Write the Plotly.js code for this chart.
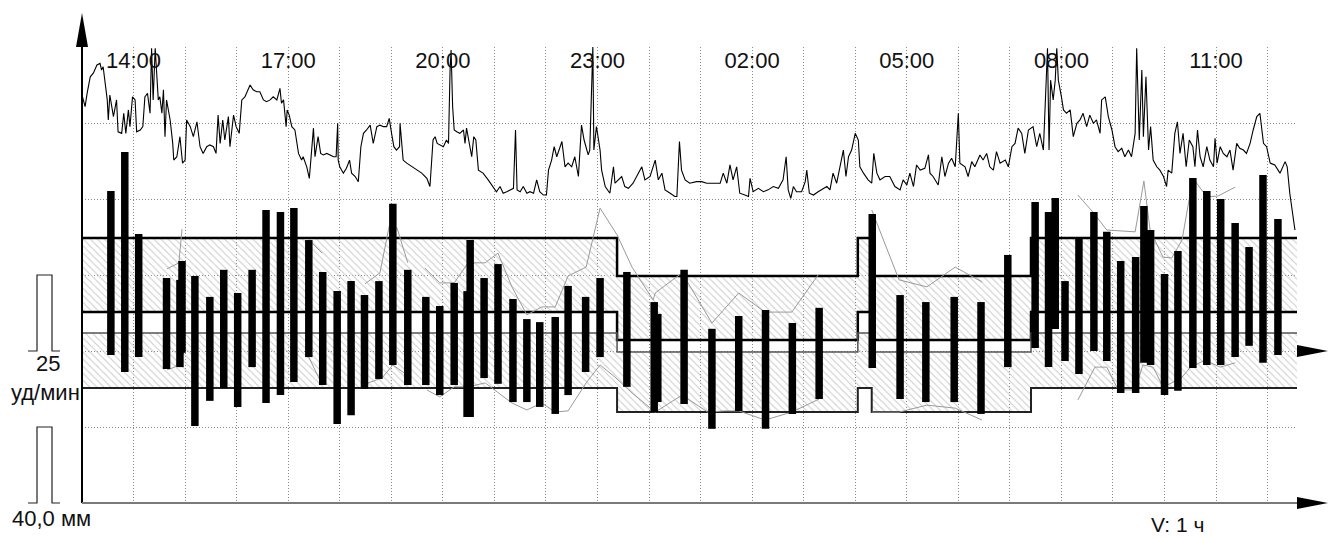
<!DOCTYPE html>
<html>
<head>
<meta charset="utf-8">
<script src="https://cdn.plot.ly/plotly-3.0.1.min.js"></script>
<style>
html,body{margin:0;padding:0;background:#fff;}
#chart{width:1329px;height:539px;}
</style>
</head>
<body>
<div id="chart"></div>
<script>
// Time axis: hours after 13:00 of the first day
const tickHours  = [1, 4, 7, 10, 13, 16, 19, 22];
const tickLabels = ['14:00', '17:00', '20:00', '23:00', '02:00', '05:00', '08:00', '11:00'];

// Heart-rate trend (upper curve)
const hrTime = [
0.01,0.06,0.10,0.16,0.22,0.29,0.35,0.38,0.41,0.45,
0.49,0.51,0.54,0.61,0.67,0.70,0.77,0.81,0.85,0.90,
0.93,0.98,1.03,1.06,1.13,1.18,1.22,1.27,1.32,1.35,
1.38,1.42,1.48,1.51,1.55,1.58,1.61,1.64,1.71,1.76,
1.78,1.84,1.90,1.95,2.00,2.03,2.10,2.16,2.23,2.29,
2.35,2.42,2.48,2.55,2.60,2.64,2.68,2.73,2.77,2.84,
2.87,2.94,2.99,3.05,3.10,3.16,3.26,3.32,3.39,3.45,
3.52,3.58,3.65,3.71,3.78,3.84,3.87,3.91,3.96,3.98,
4.02,4.07,4.13,4.20,4.26,4.29,4.36,4.41,4.46,4.49,
4.52,4.58,4.63,4.68,4.75,4.81,4.88,4.93,4.96,4.97,
5.00,5.07,5.13,5.19,5.23,5.30,5.36,5.41,5.46,5.52,
5.59,5.65,5.72,5.78,5.85,5.91,5.96,6.01,6.05,6.10,
6.16,6.17,6.23,6.30,6.40,6.49,6.59,6.69,6.75,6.81,
6.85,6.89,6.94,7.01,7.07,7.11,7.14,7.16,7.19,7.22,
7.27,7.33,7.40,7.43,7.46,7.49,7.56,7.60,7.64,7.69,
7.78,7.88,7.98,8.04,8.11,8.17,8.24,8.30,8.37,8.41,
8.44,8.50,8.56,8.63,8.69,8.76,8.82,8.88,8.95,9.01,
9.05,9.11,9.16,9.21,9.26,9.31,9.37,9.43,9.50,9.56,
9.63,9.66,9.69,9.74,9.79,9.82,9.85,9.89,9.91,9.93,
9.98,10.02,10.05,10.08,10.15,10.24,10.31,10.34,10.40,10.47,
10.53,10.60,10.69,10.79,10.86,10.92,11.02,11.12,11.18,11.25,
11.31,11.41,11.50,11.54,11.59,11.63,11.70,11.79,11.92,12.02,
12.12,12.25,12.38,12.44,12.51,12.57,12.63,12.70,12.76,12.86,
12.93,12.96,13.02,13.12,13.22,13.31,13.41,13.51,13.60,13.66,
13.70,13.75,13.80,13.86,13.96,14.03,14.06,14.11,14.19,14.28,
14.38,14.45,14.51,14.57,14.64,14.70,14.77,14.82,14.87,14.93,
15.00,15.06,15.09,15.16,15.25,15.32,15.36,15.42,15.48,15.58,
15.67,15.77,15.87,15.93,16.00,16.06,16.13,16.19,16.26,16.35,
16.42,16.45,16.51,16.61,16.68,16.74,16.81,16.87,16.94,17.00,
17.03,17.13,17.19,17.26,17.32,17.42,17.48,17.55,17.61,17.68,
17.74,17.81,17.91,17.97,18.04,18.10,18.16,18.23,18.29,18.36,
18.42,18.45,18.52,18.58,18.65,18.69,18.73,18.76,18.79,18.84,
18.88,18.91,18.94,19.00,19.04,19.10,19.17,19.23,19.30,19.36,
19.42,19.49,19.55,19.62,19.68,19.75,19.78,19.85,19.91,19.98,
20.04,20.10,20.17,20.23,20.30,20.36,20.43,20.46,20.51,20.56,
20.59,20.64,20.69,20.73,20.78,20.85,20.91,20.98,21.04,21.07,
21.14,21.20,21.25,21.30,21.36,21.42,21.48,21.55,21.59,21.64,
21.69,21.75,21.82,21.88,21.95,21.98,22.02,22.08,22.14,22.21,
22.27,22.33,22.40,22.46,22.53,22.59,22.66,22.72,22.79,22.85,
22.92,22.98,23.05,23.14,23.24,23.34,23.38,23.43,23.53
];
const hrValue = [
133.6,130.4,134.8,140.2,141.4,144.1,144.6,142.4,143.5,138.1,
132.6,126.0,134.2,127.1,132.6,122.1,121.6,128.2,121.6,129.3,
123.8,133.6,132.6,122.1,122.7,123.8,133.6,134.8,128.2,149.6,
132.6,149.6,132.6,133.6,128.2,135.9,120.5,132.6,126.0,118.3,
112.8,113.9,120.5,111.8,112.8,126.0,123.8,120.5,125.4,117.2,
115.0,117.2,117.8,117.2,115.0,127.6,118.3,126.0,119.4,127.1,
117.2,127.6,123.8,121.6,132.6,133.6,137.5,135.9,135.3,135.3,
132.6,132.0,132.6,133.6,132.6,136.4,131.5,132.6,123.8,129.3,
127.6,123.8,122.7,115.0,112.8,113.9,110.6,106.8,116.1,123.3,
113.9,120.5,115.0,114.5,115.0,114.5,113.9,113.9,124.9,112.8,
110.6,108.5,110.1,112.8,108.5,107.4,105.7,117.2,121.6,122.7,
124.3,118.3,123.8,124.3,123.8,123.8,126.5,121.1,117.2,116.1,
117.2,124.9,112.8,111.8,110.6,109.5,108.5,106.8,104.1,119.4,
120.5,118.3,117.8,117.2,119.4,118.3,142.4,149.0,130.4,122.7,
122.1,121.6,122.7,118.3,123.3,120.5,113.9,120.5,119.4,109.5,
108.5,106.3,104.1,102.4,104.1,101.9,102.4,103.0,103.5,122.7,
103.0,102.4,104.1,101.9,102.4,101.9,106.3,102.4,101.3,101.3,
109.5,112.8,117.2,113.9,116.1,118.9,110.6,111.8,110.6,113.9,
107.4,117.2,124.3,119.4,116.1,114.5,116.1,142.4,150.1,116.1,
123.8,119.4,116.1,109.5,104.1,101.9,110.6,105.2,106.3,107.4,
104.1,103.5,105.2,108.5,110.6,106.3,107.4,112.8,106.3,108.5,
103.0,101.9,100.8,100.8,118.9,109.5,106.3,105.2,105.7,105.7,
105.2,105.2,105.2,108.5,105.2,111.2,106.3,110.6,101.9,101.3,
100.8,106.8,102.4,103.5,102.4,103.0,104.1,103.5,106.3,113.9,
103.0,100.2,104.1,102.4,102.4,105.7,109.5,101.9,101.3,102.4,
103.5,104.1,103.0,108.5,105.2,110.6,116.1,107.4,113.9,116.1,
121.6,119.4,110.6,108.5,106.3,105.2,115.0,108.5,106.3,107.4,
107.4,104.1,103.0,106.3,104.6,108.5,104.1,111.2,109.5,110.1,
114.5,108.5,107.4,104.6,113.9,107.4,111.8,113.4,110.6,128.2,
111.8,110.6,107.4,112.3,110.6,114.5,112.8,115.0,110.6,109.5,
115.6,111.8,112.8,110.6,117.2,118.3,123.3,121.6,115.0,122.7,
123.3,123.8,117.2,121.6,116.1,132.6,149.6,116.1,139.1,132.6,
139.1,149.6,139.1,133.6,129.3,128.2,129.3,120.5,124.9,126.0,
128.2,123.8,127.6,124.9,126.0,121.6,132.6,133.6,127.1,122.7,
117.2,115.6,116.7,113.9,116.1,113.9,121.6,149.6,119.4,142.4,
120.5,140.2,116.1,123.8,112.8,110.6,109.5,107.4,104.1,109.5,
108.5,121.6,125.4,115.0,121.6,110.6,119.4,117.2,110.6,122.7,
113.9,110.6,117.2,112.8,110.6,120.0,111.8,117.2,115.0,113.9,
116.1,109.5,118.3,116.7,116.1,115.0,118.3,122.7,127.1,128.2,
118.3,117.2,111.8,111.2,108.5,112.3,110.6,101.9,89.8
];

// Range bars (low .. high)
const barTime = [
0.56,0.83,1.10,1.64,1.90,1.94,2.19,2.48,2.75,3.02,
3.30,3.57,3.85,4.11,4.40,4.67,4.95,5.22,5.48,5.76,
6.03,6.32,6.67,6.94,7.22,7.47,7.53,7.80,8.07,8.36,
8.63,8.88,9.18,9.43,9.77,10.05,
10.57,11.10,11.17,11.68,12.22,12.74,13.26,13.78,14.30,15.33,
15.87,16.37,16.92,17.44,17.96,
18.49,18.75,18.88,19.07,19.34,19.63,19.88,20.15,20.44,20.60,
20.73,21.00,21.26,21.55,21.82,22.09,22.37,22.64,22.91,23.20
];
const barHigh = [
102.6,115.5,88.5,74.0,73.4,79.6,74.7,67.8,76.7,69.1,
76.7,96.4,95.7,97.0,86.5,76.0,69.7,73.0,68.4,73.0,
98.4,76.7,67.8,64.8,72.4,69.7,86.5,74.0,78.6,67.1,
60.5,59.5,61.2,71.4,67.8,74.0,
76.0,66.1,62.2,76.7,57.3,61.5,63.5,59.2,64.2,95.1,
68.4,66.1,67.8,66.1,81.6,
99.0,95.7,100.3,73.0,87.2,95.7,89.2,79.6,80.9,97.7,
89.8,75.3,82.9,106.9,102.6,100.0,92.1,84.2,107.9,93.4
];
const barLow = [
48.7,43.1,48.0,44.1,44.7,49.4,25.3,33.6,37.8,31.6,
44.7,32.9,35.5,39.8,48.0,38.8,26.0,28.9,37.5,40.8,
45.4,38.8,38.8,35.5,38.8,28.3,28.3,41.1,39.2,33.2,
33.2,31.6,29.3,35.5,43.1,48.0,
38.2,29.9,33.2,32.6,24.4,30.3,24.4,29.3,34.2,44.4,
34.2,33.2,33.2,29.3,44.7,
51.0,44.7,57.2,46.7,42.4,50.0,46.7,36.2,36.2,46.1,
45.4,35.5,36.9,44.4,45.4,45.4,48.0,51.7,46.1,48.7
];

// Day / night step limits
const stepTime   = [0, 10.38, 15.05, 15.32, 18.41, 23.57];
const upperLimit = [87.2, 74.7, 87.2, 74.7, 87.2, 87.2];
const upperMean  = [62.8, 53.6, 62.8, 53.6, 62.8, 62.8];
const lowerMean  = [55.9, 49.7, 55.9, 49.7, 55.9, 55.9];
const lowerLimit = [37.8, 29.9, 37.8, 29.9, 37.8, 37.8];

// Thin grey envelope lines
const envUpTime = [1.65,1.88,1.94,null,4.40,4.66,null,5.49,5.78,5.96,6.11,6.32,null,
  6.65,6.94,7.22,7.49,7.82,8.07,8.34,8.63,8.92,9.18,9.43,
  9.78,10.05,10.38,10.67,11.08,11.12,11.64,12.22,12.74,13.25,13.77,14.28,null,
  15.32,15.85,16.39,16.94,17.46,null,
  19.32,19.61,19.88,20.43,20.60,20.72,20.97,21.14,21.34,21.55,21.82,22.04,22.37];
const envUpValue = [77.0,79.0,90.1,null,86.5,82.2,null,72.1,75.7,91.1,90.5,79.0,null,
  77.3,72.4,72.4,79.0,79.0,82.2,71.1,61.9,64.5,64.5,74.7,
  77.6,97.0,88.2,77.6,66.8,69.1,75.7,59.2,69.1,62.8,62.8,75.0,null,
  96.4,73.4,71.1,77.6,72.7,null,
  101.3,95.7,89.8,89.2,105.9,89.8,80.9,80.6,86.5,106.9,100.7,101.0,103.9];
const envLowTime = [1.65,1.80,1.98,null,4.40,4.66,null,5.55,5.82,6.03,6.25,null,
  6.69,6.94,7.22,7.49,7.82,8.34,8.63,8.92,9.18,9.43,
  9.78,10.05,10.34,10.67,11.12,11.64,12.14,12.47,12.74,13.25,13.77,14.30,null,
  15.32,15.85,16.39,16.94,17.46,null,
  19.32,19.65,19.88,20.10,20.43,20.58,20.78,20.97,21.14,21.34,21.49,21.78,22.08,22.37];
const envLowValue = [43.8,44.7,49.4,null,48.0,38.8,null,39.5,41.1,45.4,42.8,null,
  37.2,34.9,38.2,38.2,39.5,32.9,30.6,32.9,29.9,30.3,
  39.5,45.4,41.4,36.2,29.9,35.5,29.9,30.3,30.3,27.3,29.9,34.2,null,
  29.9,29.9,32.2,31.2,27.3,null,
  33.9,44.7,44.7,37.2,37.2,45.4,44.7,38.2,39.5,41.4,44.4,47.0,44.7,46.1];

const FONT = 'Liberation Sans, Arial, sans-serif';
const GRID = '#8a8a8a';
const hatch = {shape: '\\', fgcolor: '#cacaca', bgcolor: 'rgba(0,0,0,0)', size: 5, solidity: 0.2};

function stepTrace(y, extra) {
  return Object.assign({
    type: 'scatter', mode: 'lines', x: stepTime, y: y,
    line: {shape: 'hv', width: 0, color: 'rgba(0,0,0,0)'},
    hoverinfo: 'skip', showlegend: false
  }, extra || {});
}

// vertical range bars drawn as thick segments so they sit above the hatching
const barX = [], barY = [];
barTime.forEach((t, i) => { barX.push(t, t, null); barY.push(barLow[i], barHigh[i], null); });

const traces = [
  stepTrace(upperMean),
  stepTrace(upperLimit, {fill: 'tonexty', fillcolor: 'rgba(0,0,0,0)', fillpattern: hatch}),
  stepTrace(lowerLimit),
  stepTrace(lowerMean, {fill: 'tonexty', fillcolor: 'rgba(0,0,0,0)', fillpattern: hatch}),
  stepTrace(upperLimit, {line: {shape: 'hv', width: 2.5, color: '#000'}}),
  stepTrace(upperMean,  {line: {shape: 'hv', width: 2.5, color: '#000'}}),
  stepTrace(lowerMean,  {line: {shape: 'hv', width: 1.5, color: '#555'}}),
  stepTrace(lowerLimit, {line: {shape: 'hv', width: 2, color: '#222'}}),
  {type: 'scatter', mode: 'lines', x: envUpTime, y: envUpValue,
   line: {color: '#9a9a9a', width: 1}, hoverinfo: 'skip', showlegend: false},
  {type: 'scatter', mode: 'lines', x: envLowTime, y: envLowValue,
   line: {color: '#9a9a9a', width: 1}, hoverinfo: 'skip', showlegend: false},
  {type: 'scatter', mode: 'lines', x: hrTime, y: hrValue,
   line: {color: '#000', width: 1.1}, hoverinfo: 'skip', showlegend: false},
  {type: 'scatter', mode: 'lines', x: barX, y: barY,
   line: {color: '#000', width: 7.5}, hoverinfo: 'skip', showlegend: false}
];

const arrowRight = 'M0,6 L31,0 L0,-6 Z';
const layout = {
  width: 1329, height: 539,
  margin: {l: 82, r: 32, t: 47, b: 36},
  paper_bgcolor: '#fff', plot_bgcolor: '#fff',
  showlegend: false,
  font: {family: FONT, size: 22, color: '#111'},
  xaxis: {
    range: [0, 23.57], side: 'top',
    tickmode: 'array', tickvals: tickHours, ticktext: tickLabels,
    ticklabelposition: 'inside', ticks: '', ticklabelstandoff: 3,
    tickfont: {family: FONT, size: 22, color: '#111'},
    showgrid: true, gridcolor: GRID, griddash: '1px,2px', gridwidth: 1,
    minor: {tickmode: 'linear', tick0: 0, dtick: 1, showgrid: true,
            gridcolor: GRID, griddash: '1px,2px', gridwidth: 1, ticks: ''},
    zeroline: false, showline: false, fixedrange: true
  },
  yaxis: {
    range: [0, 150], tickmode: 'linear', tick0: 0, dtick: 25,
    showticklabels: false, ticks: '',
    showgrid: true, gridcolor: GRID, griddash: '1px,2px', gridwidth: 1,
    zeroline: false, showline: false, fixedrange: true
  },
  shapes: [
    {type: 'line', xref: 'paper', yref: 'paper', x0: 0, x1: 0, y0: 0, y1: 1,
     line: {color: '#000', width: 2}},
    {type: 'line', xref: 'paper', yref: 'paper', x0: 0, x1: 1, y0: 0, y1: 0,
     line: {color: '#7a7a7a', width: 2}},
    {type: 'path', xref: 'paper', yref: 'paper', xsizemode: 'pixel', ysizemode: 'pixel',
     xanchor: 0, yanchor: 1, path: 'M0,34 L-6,0 L6,0 Z',
     fillcolor: '#000', line: {width: 0}},
    {type: 'path', xref: 'paper', yref: 'paper', xsizemode: 'pixel', ysizemode: 'pixel',
     xanchor: 1, yanchor: 0, path: arrowRight, fillcolor: '#000', line: {width: 0}},
    {type: 'path', xref: 'paper', yref: 'paper', xsizemode: 'pixel', ysizemode: 'pixel',
     xanchor: 1, yanchor: 50 / 150, path: arrowRight, fillcolor: '#000', line: {width: 0}},
    {type: 'path', xref: 'paper', yref: 'paper', xsizemode: 'pixel',
     xanchor: 0, path: 'M-54,0.3333 L-45,0.3333 L-45,0.5 L-30,0.5 L-30,0.3333 L-22,0.3333',
     line: {color: '#222', width: 1.2}},
    {type: 'path', xref: 'paper', yref: 'paper', xsizemode: 'pixel',
     xanchor: 0, path: 'M-54,0 L-45,0 L-45,0.1667 L-30,0.1667 L-30,0 L-22,0',
     line: {color: '#222', width: 1.2}}
  ],
  annotations: [
    {text: '25', xref: 'paper', yref: 'paper', x: 0, y: 0.307, xshift: -34,
     xanchor: 'center', yanchor: 'middle', showarrow: false, font: {size: 22}},
    {text: 'уд/мин', xref: 'paper', yref: 'paper', x: 0, y: 0.252, xshift: -37, yshift: -4,
     xanchor: 'center', yanchor: 'middle', showarrow: false, font: {size: 22}},
    {text: '40,0 мм', xref: 'paper', yref: 'paper', x: 0, y: 0, xshift: -31, yshift: -15,
     xanchor: 'center', yanchor: 'middle', showarrow: false, font: {size: 22}},
    {text: 'V: 1 ч', xref: 'paper', yref: 'paper', x: 0.902, y: 0, yshift: -21,
     xanchor: 'center', yanchor: 'middle', showarrow: false, font: {size: 21}}
  ]
};

Plotly.newPlot('chart', traces, layout, {staticPlot: true, displayModeBar: false});
</script>
</body>
</html>
